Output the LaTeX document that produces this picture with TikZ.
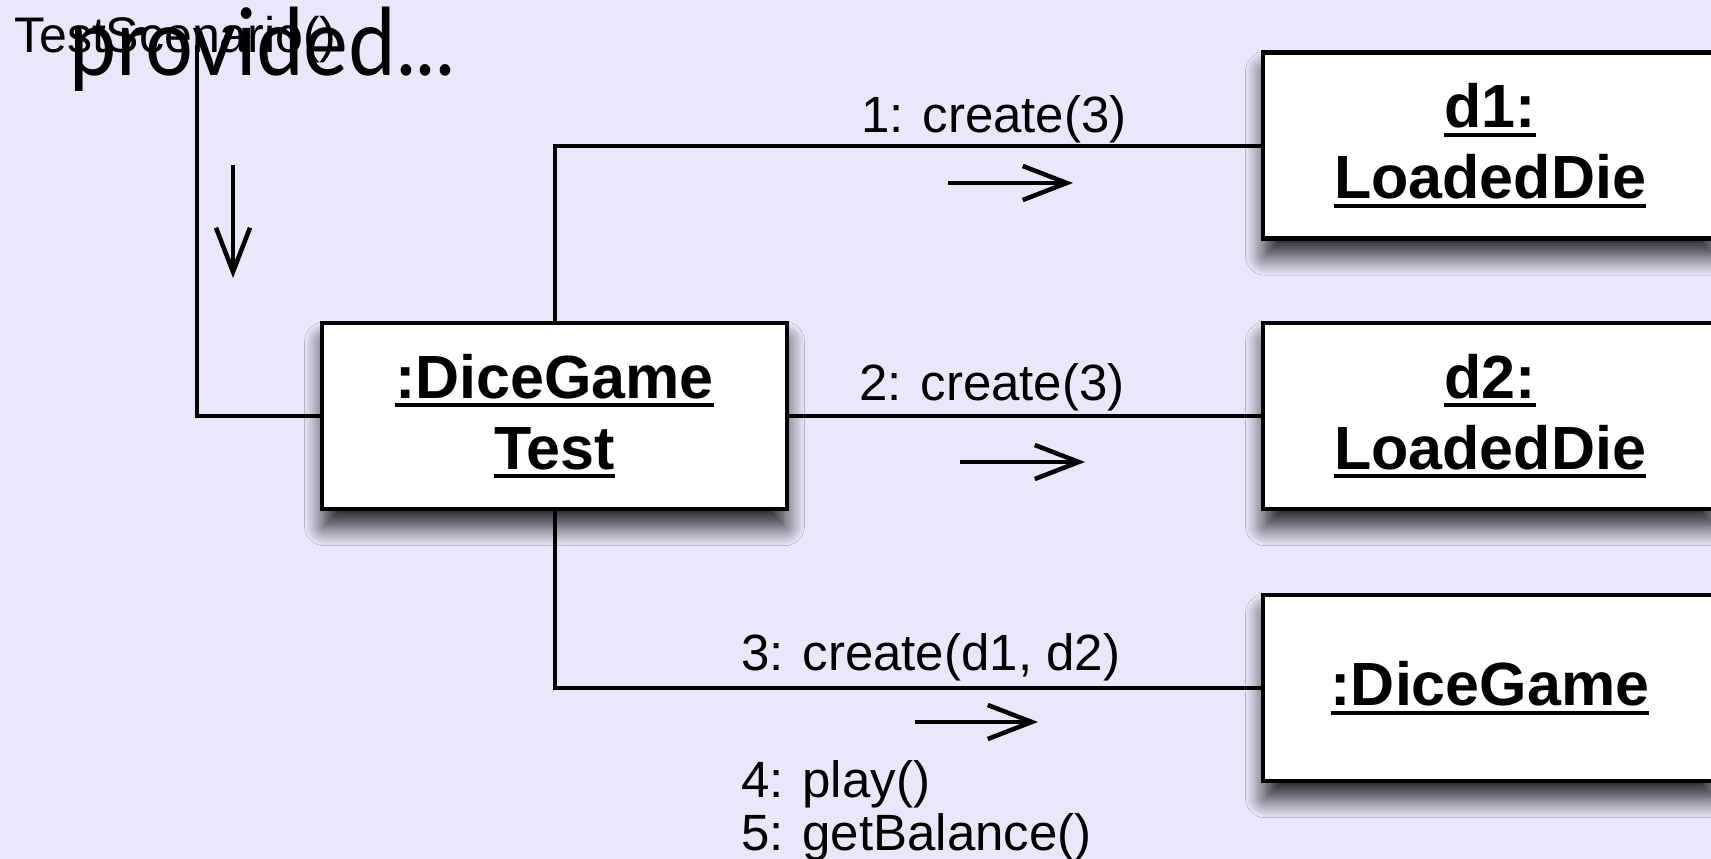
\documentclass[tikz,border=0pt]{standalone}
\usepackage{fontspec}
\setmainfont{Liberation Sans}
\newfontfamily\provfont{Lato}
\usetikzlibrary{shadows.blur,arrows.meta}
\definecolor{bgc}{RGB}{232,232,250}
\newcommand\myul[1]{\setbox0\hbox{#1}\rlap{\rule[-9pt]{\wd0}{4pt}}\box0}
\begin{document}
\begin{tikzpicture}[x=1pt,y=-1pt,
  obj/.style={draw, line width=4.5pt, fill=white, minimum width=465pt, minimum height=186pt,
    align=center, font=\bfseries\fontsize{61}{71}\selectfont,
    blur shadow={shadow xshift=0pt, shadow yshift=-18pt, shadow blur radius=20pt,
      shadow blur steps=14, shadow opacity=90, shadow scale=0.99}},
  link/.style={line width=4pt},
  msg/.style={line width=4.5pt, -{Straight Barb[length=44pt,width=34pt]}},
  lbl/.style={anchor=base west, inner sep=0pt, font=\fontsize{51}{60}\selectfont}]
\fill[bgc] (0,0) rectangle (1711,859);
\useasboundingbox (0,0) rectangle (1711,859);

\node[obj] (dgt) at (554.5,416) {\myul{:DiceGame}\\\myul{Test}};
\node[obj, minimum width=454pt] (d1) at (1490,145.5) {\myul{d1:}\\\myul{LoadedDie}};
\node[obj, minimum width=454pt] (d2) at (1490,416) {\myul{d2:}\\\myul{LoadedDie}};
\node[obj, minimum width=454pt] (dg) at (1490,688) {\myul{:DiceGame}};

\draw[link] (d1.west) -| (dgt.north);
\draw[link] (dgt.east) -- (d2.west);
\draw[link] (dgt.south) |- (dg.west);
\coordinate (start) at (197,45);
\draw[link] (start) |- (dgt.west);

\node[lbl] (t1) at (861,132) {1: create(3)};
\node[lbl] (t2) at (859,400) {2: create(3)};
\node[lbl] (t3) at (741,670) {3: create(d1, d2)};
\node[lbl] (t4) at (741,797) {4: play()};
\node[lbl] (t5) at (741,850) {5: getBalance()};

\coordinate (a1s) at (948,183); \coordinate (a1e) at (1073,183);
\coordinate (a2s) at (960,462); \coordinate (a2e) at (1085,462);
\coordinate (a3s) at (915,722); \coordinate (a3e) at (1038,722);
\coordinate (a0s) at (233,165); \coordinate (a0e) at (233,278);
\draw[msg] (a1s) -- (a1e);
\draw[msg] (a2s) -- (a2e);
\draw[msg] (a3s) -- (a3e);
\draw[msg] (a0s) -- (a0e);

\node[anchor=base west, inner sep=0pt, font=\fontsize{50}{60}\selectfont] (ts) at (14,53) {TestScenario()};
\node[anchor=base west, inner sep=0pt, xscale=0.91, font=\provfont\fontsize{93}{100}\selectfont] (pv) at (69,75) {provided...};
\end{tikzpicture}
\end{document}
